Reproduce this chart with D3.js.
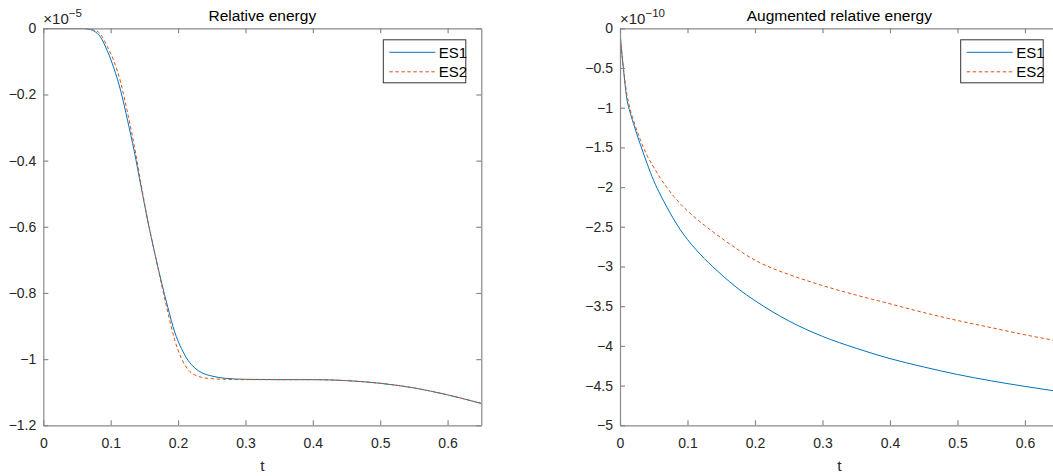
<!DOCTYPE html>
<html>
<head>
<meta charset="utf-8">
<script src="https://cdn.jsdelivr.net/npm/d3@7"></script>
<style>
  body { margin: 0; background: #fff; }
  svg { display: block; font-family: "Liberation Sans", Arial, Helvetica, sans-serif; }
</style>
</head>
<body>
<svg id="chart" width="1053" height="476"></svg>
<script>
// left panel: relative energy (units of 1e-5)
let relT = [0, 0.04, 0.055, 0.065, 0.075, 0.085, 0.095, 0.105, 0.115, 0.125, 0.135, 0.145, 0.155, 0.165, 0.175, 0.185, 0.195, 0.205, 0.215, 0.225, 0.235, 0.25, 0.27, 0.3, 0.35, 0.4, 0.45, 0.5, 0.55, 0.6, 0.65]
let relES1 = [0, 0, 0, -0.002, -0.008, -0.027, -0.068, -0.122, -0.19, -0.278, -0.372, -0.478, -0.582, -0.676, -0.764, -0.845, -0.918, -0.968, -1.004, -1.027, -1.041, -1.051, -1.058, -1.061, -1.062, -1.062, -1.065, -1.073, -1.087, -1.108, -1.134]
let relES2 = [0, 0, 0, -0.001, -0.005, -0.018, -0.055, -0.1, -0.165, -0.255, -0.355, -0.47, -0.58, -0.676, -0.77, -0.86, -0.942, -0.998, -1.032, -1.048, -1.055, -1.059, -1.061, -1.062, -1.062, -1.062, -1.065, -1.073, -1.087, -1.108, -1.134]

// right panel: augmented relative energy (units of 1e-10)
let augT = [0, 0.002, 0.005, 0.01, 0.015, 0.02, 0.03, 0.04, 0.05, 0.06, 0.07, 0.08, 0.09, 0.1, 0.125, 0.15, 0.175, 0.2, 0.225, 0.25, 0.3, 0.35, 0.4, 0.45, 0.5, 0.55, 0.6, 0.65]
let augES1 = [-0.05, -0.25, -0.5, -0.88, -1.06, -1.2, -1.46, -1.7, -1.92, -2.1, -2.26, -2.41, -2.545, -2.66, -2.9, -3.1, -3.28, -3.43, -3.565, -3.685, -3.88, -4.03, -4.16, -4.265, -4.36, -4.44, -4.51, -4.575]
let augES2 = [-0.05, -0.25, -0.5, -0.82, -1.02, -1.16, -1.4, -1.6, -1.75, -1.89, -2.01, -2.12, -2.215, -2.3, -2.48, -2.64, -2.79, -2.92, -3.02, -3.1, -3.24, -3.36, -3.47, -3.58, -3.68, -3.77, -3.86, -3.94]

let xTicks = [0, 0.1, 0.2, 0.3, 0.4, 0.5, 0.6]
let relYTicks = [0, -0.2, -0.4, -0.6, -0.8, -1, -1.2]
let augYTicks = [0, -0.5, -1, -1.5, -2, -2.5, -3, -3.5, -4, -4.5, -5]
let seriesNames = ["ES1", "ES2"]

let colours = { ES1: "#0072BD", ES2: "#D95319" }
let svg = d3.select("#chart")

function panel (cfg) {
  let x = d3.scaleLinear().domain([0, 0.65]).range([cfg.left, cfg.right])
  let y = d3.scaleLinear().domain(cfg.yDomain).range([cfg.bottom, cfg.top])
  let g = svg.append("g")
  let fmt = d => String(d).replace("-", "\u2212")

  g.append("clipPath").attr("id", `clip-${cfg.id}`)
    .append("rect")
    .attr("x", cfg.left).attr("y", cfg.top)
    .attr("width", cfg.right - cfg.left).attr("height", cfg.bottom - cfg.top)

  let line = d3.line()
    .x(d => x(d[0]))
    .y(d => y(d[1]))
    .curve(d3.curveMonotoneX)

  cfg.series.forEach((s, i) => {
    g.append("path")
      .datum(cfg.t.map((t, j) => [t, s[j]]))
      .attr("clip-path", `url(#clip-${cfg.id})`)
      .attr("d", line)
      .attr("fill", "none")
      .attr("stroke", colours[seriesNames[i]])
      .attr("stroke-width", 1)
      .attr("stroke-dasharray", i === 1 ? "3.5,2.5" : null)
  })

  let axes = [
    [d3.axisBottom(x).tickValues(xTicks).tickFormat(fmt).tickPadding(13), `translate(0,${cfg.bottom})`],
    [d3.axisTop(x).tickValues(xTicks).tickFormat(""), `translate(0,${cfg.top})`],
    [d3.axisLeft(y).tickValues(cfg.yTicks).tickFormat(fmt).tickPadding(7), `translate(${cfg.left},0)`],
    [d3.axisRight(y).tickValues(cfg.yTicks).tickFormat(""), `translate(${cfg.right},0)`]
  ]
  axes.forEach(([ax, tr]) => {
    let a = g.append("g")
      .attr("transform", tr)
      .call(ax.tickSizeInner(-5).tickSizeOuter(0))
    a.selectAll("path, line").attr("stroke", "#8a8a8a").attr("stroke-width", 1.2)
    a.selectAll("text")
      .attr("fill", "#262626")
      .attr("font-size", 14)
      .attr("font-family", "Liberation Sans, Arial, sans-serif")
  })

  let mid = (cfg.left + cfg.right) / 2
  g.append("text")
    .attr("x", mid).attr("y", 21)
    .attr("text-anchor", "middle")
    .attr("font-size", 15.5)
    .attr("fill", "#000")
    .text(cfg.title)

  g.append("text")
    .attr("x", mid).attr("y", 471)
    .attr("text-anchor", "middle")
    .attr("font-size", 15.5)
    .attr("fill", "#262626")
    .text("t")

  let ex = g.append("text")
    .attr("x", cfg.left).attr("y", 24)
    .attr("font-size", 15)
    .attr("fill", "#262626")
  ex.append("tspan").text("\u00d710")
  ex.append("tspan").attr("dy", -7).attr("font-size", 11.5).text(cfg.exp.replace("-", "\u2212"))

  // legend
  let lw = 82.5, lh = 43
  let lx = cfg.right - 15.5 - lw, ly = 39.8
  let lg = g.append("g").attr("transform", `translate(${lx},${ly})`)
  lg.append("rect")
    .attr("width", lw).attr("height", lh)
    .attr("fill", "#fff")
    .attr("stroke", "#333").attr("stroke-width", 1)
  seriesNames.forEach((name, i) => {
    let yy = 12.5 + i * 19.5
    lg.append("line")
      .attr("x1", 6).attr("x2", 52)
      .attr("y1", yy).attr("y2", yy)
      .attr("stroke", colours[name])
      .attr("stroke-width", 1)
      .attr("stroke-dasharray", i === 1 ? "3.5,2.5" : null)
    lg.append("text")
      .attr("x", 55.5).attr("y", yy + 5.5)
      .attr("font-size", 15)
      .attr("fill", "#000")
      .text(name)
  })
}

panel({
  id: "rel", left: 43.3, right: 481.3, top: 28.3, bottom: 425.3,
  yDomain: [-1.2, 0], yTicks: relYTicks,
  t: relT, series: [relES1, relES2],
  title: "Relative energy", exp: "-5"
})

panel({
  id: "aug", left: 620, right: 1058.7, top: 28.3, bottom: 425.3,
  yDomain: [-5, 0], yTicks: augYTicks,
  t: augT, series: [augES1, augES2],
  title: "Augmented relative energy", exp: "-10"
})
</script>
</body>
</html>
